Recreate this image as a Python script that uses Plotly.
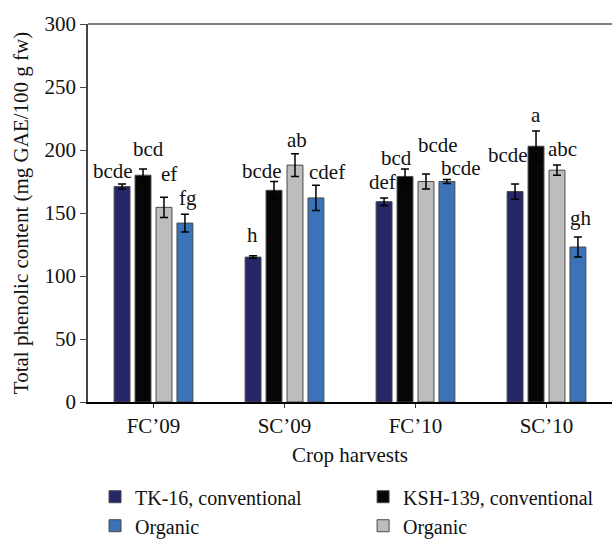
import plotly.graph_objects as go

# ---------------- data ----------------
harvests = ["FC’09", "SC’09", "FC’10", "SC’10"]
series_names = ["TK-16, conventional", "KSH-139, conventional", "Organic", "Organic"]

tk16_conv = [171, 115, 159, 167]
ksh139_conv = [180, 168, 179, 203]
ksh139_org = [154.5, 188, 175, 184]
tk16_org = [142, 162, 175, 123]

tk16_conv_err = [2, 1, 3, 6]
ksh139_conv_err = [5, 7, 6, 12]
ksh139_org_err = [8, 9, 6, 4]
tk16_org_err = [7, 10, 1.5, 8]

tk16_conv_letters = ["bcde", "h", "def", "bcde"]
ksh139_conv_letters = ["bcd", "bcde", "bcd", "a"]
ksh139_org_letters = ["ef", "ab", "bcde", "abc"]
tk16_org_letters = ["fg", "cdef", "bcde", "gh"]

# ---------------- style ----------------
colors = ["#262669", "#060606", "#bdbdbd", "#3b73b9"]
legends = ["legend", "legend2", "legend2", "legend"]
FONT = "Liberation Serif"
FS = 21
BARGAP = 0.36

# label nudges (px): horizontal shift, and gap between error-bar top and text baseline
label_dx = [[-9.5, -1, -2, -7], [5, -12, -9, 0], [5, 2, 12.5, 6], [3, 11, 14, 3.5]]
label_gap = [[5, 13, 8, 21], [11.6, 2.4, 2.6, 8.4], [15, 5.7, 20.6, 8.3], [8, 5.4, 3.6, 10.6]]

values = [tk16_conv, ksh139_conv, ksh139_org, tk16_org]
errors = [tk16_conv_err, ksh139_conv_err, ksh139_org_err, tk16_org_err]
letters = [tk16_conv_letters, ksh139_conv_letters, ksh139_org_letters, tk16_org_letters]

xpos = list(range(len(harvests)))

fig = go.Figure()
for i in range(4):
    fig.add_trace(go.Bar(
        x=xpos, y=values[i], name=series_names[i],
        marker=dict(color=colors[i], line=dict(color="#4a4a4a", width=1)),
        error_y=dict(type="data", array=errors[i], visible=True,
                     color="#000000", thickness=1.5, width=4),
        legend=legends[i],
    ))

annotations = []
slot = (1 - BARGAP) / 4
for i in range(4):
    for j in range(len(harvests)):
        annotations.append(dict(
            x=xpos[j] + (i - 1.5) * slot, y=values[i][j] + errors[i][j],
            xref="x", yref="y", text=letters[i][j], showarrow=False,
            xanchor="center", yanchor="bottom",
            xshift=label_dx[i][j], yshift=label_gap[i][j] - 6,
            font=dict(family=FONT, size=FS, color="#111111"),
        ))

fig.update_layout(
    width=612, height=539,
    margin=dict(l=88, r=0, t=24, b=137, autoexpand=False),
    paper_bgcolor="white", plot_bgcolor="white",
    barmode="group", bargap=BARGAP, bargroupgap=0.24,
    font=dict(family=FONT, size=FS, color="#111111"),
    annotations=annotations,
    shapes=[dict(type="line", xref="paper", yref="paper", x0=0, x1=1, y0=1, y1=1,
                 line=dict(color="#555555", width=1.5))],
    xaxis=dict(
        tickvals=xpos, ticktext=harvests, range=[-0.5, 3.5], automargin=False,
        showline=True, linecolor="#000000", linewidth=2,
        ticks="outside", ticklen=4, tickcolor="#333333",
        showgrid=False, zeroline=False,
        tickfont=dict(family=FONT, size=FS),
        title=dict(text="Crop harvests", font=dict(family=FONT, size=FS), standoff=10),
    ),
    yaxis=dict(
        range=[0, 300], tickvals=[0, 50, 100, 150, 200, 250, 300], automargin=False,
        showline=True, linecolor="#444444", linewidth=1.5,
        ticks="outside", ticklen=6, tickcolor="#444444",
        showgrid=False, zeroline=False,
        tickfont=dict(family=FONT, size=FS),
        title=dict(text="Total phenolic content (mg GAE/100 g fw)",
                   font=dict(family=FONT, size=FS), standoff=10),
    ),
    legend=dict(x=0.0134, y=-0.199, xanchor="left", yanchor="top",
                orientation="v", font=dict(family=FONT, size=20),
                bgcolor="rgba(0,0,0,0)", tracegroupgap=0),
    legend2=dict(x=0.525, y=-0.199, xanchor="left", yanchor="top",
                 orientation="v", font=dict(family=FONT, size=20),
                 bgcolor="rgba(0,0,0,0)", tracegroupgap=0),
)

fig.write_html("out.html", config={"displayModeBar": False},
               post_script="document.body.style.margin='0';document.body.style.overflow='hidden';")
